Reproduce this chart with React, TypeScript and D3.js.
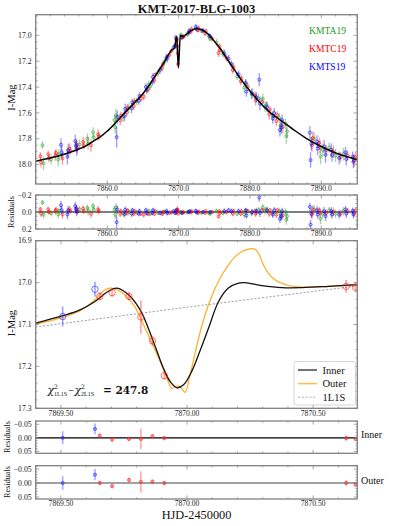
import * as d3 from "d3";

type Pt = [number, number, number];

const FONT = "'Liberation Serif', 'Times New Roman', serif";
const MATH = "'DejaVu Serif', serif";

const title = "KMT-2017-BLG-1003";
const obsNames = ["KMTA19", "KMTC19", "KMTS19"];
const obsColors = ["#1f9a1f", "#ff0000", "#0000ff"];

// full light curve: [HJD', I mag, error]
const kmtA: Pt[] = [
  [7850.9, 17.85, 0.03], [7851.05, 17.99, 0.05], [7852.1, 17.96, 0.04], [7853.1, 17.96, 0.05],
  [7853.2, 17.92, 0.04], [7856.1, 17.845, 0.04], [7857.2, 17.8, 0.04], [7857.3, 17.835, 0.05],
  [7858.0, 17.75, 0.04], [7858.1, 17.79, 0.03], [7861.0, 17.655, 0.04], [7861.1, 17.71, 0.05],
  [7861.2, 17.62, 0.05], [7862.2, 17.63, 0.04], [7863.0, 17.565, 0.04], [7864.1, 17.51, 0.03],
  [7865.8, 17.38, 0.03], [7866.0, 17.395, 0.03], [7867.1, 17.29, 0.03], [7868.0, 17.205, 0.03],
  [7870.3, 16.997, 0.02], [7870.5, 17.016, 0.02], [7871.2, 16.992, 0.02], [7873.2, 16.966, 0.02],
  [7874.2, 17.003, 0.02], [7874.4, 17.026, 0.02], [7875.3, 17.056, 0.03], [7876.2, 17.142, 0.03],
  [7878.2, 17.316, 0.03], [7879.2, 17.404, 0.04], [7879.4, 17.378, 0.03], [7880.2, 17.453, 0.04],
  [7881.2, 17.487, 0.04], [7881.8, 17.49, 0.04], [7882.1, 17.55, 0.04], [7882.3, 17.54, 0.03],
  [7883.2, 17.623, 0.04], [7884.1, 17.639, 0.04], [7884.3, 17.697, 0.05], [7885.0, 17.685, 0.04],
  [7885.1, 17.779, 0.06], [7885.2, 17.743, 0.05], [7889.0, 17.8, 0.05], [7889.9, 17.937, 0.06],
  [7890.2, 17.885, 0.05], [7891.1, 17.868, 0.04], [7892.0, 17.93, 0.05], [7893.1, 17.919, 0.05],
];

const kmtC: Pt[] = [
  [7850.6, 17.935, 0.03], [7850.7, 17.983, 0.04], [7851.7, 17.92, 0.03], [7851.8, 17.95, 0.03],
  [7852.7, 17.93, 0.04], [7852.8, 17.91, 0.03], [7853.7, 17.952, 0.05], [7854.7, 17.875, 0.04],
  [7854.8, 17.894, 0.03], [7855.7, 17.844, 0.04], [7855.8, 17.872, 0.04], [7856.6, 17.824, 0.04],
  [7856.7, 17.852, 0.03], [7857.7, 17.85, 0.05], [7858.7, 17.766, 0.04], [7858.8, 17.782, 0.03],
  [7861.8, 17.657, 0.04], [7861.9, 17.621, 0.03], [7862.7, 17.597, 0.03], [7862.8, 17.561, 0.03],
  [7863.7, 17.547, 0.03], [7863.8, 17.511, 0.03], [7864.7, 17.488, 0.03], [7865.1, 17.473, 0.03],
  [7865.7, 17.418, 0.03], [7866.6, 17.344, 0.03], [7866.7, 17.306, 0.02], [7867.7, 17.251, 0.03],
  [7867.8, 17.222, 0.02], [7868.7, 17.152, 0.02], [7869.0, 17.12, 0.02],
  [7869.654, 17.033, 0.01], [7869.703, 17.024, 0.01], [7869.77, 17.033, 0.01], [7869.817, 17.082, 0.04],
  [7869.863, 17.139, 0.012], [7869.91, 17.222, 0.01], [7870.631, 17.009, 0.015], [7870.668, 17.011, 0.012],
  [7871.7, 16.971, 0.02], [7871.8, 16.952, 0.02], [7872.7, 16.959, 0.02], [7872.8, 16.945, 0.02],
  [7873.7, 16.984, 0.02], [7873.8, 16.968, 0.02], [7874.7, 17.026, 0.02], [7875.6, 17.137, 0.03],
  [7875.7, 17.084, 0.02], [7875.8, 17.111, 0.02], [7876.7, 17.175, 0.03], [7877.6, 17.268, 0.03],
  [7877.7, 17.246, 0.03], [7878.7, 17.356, 0.03], [7878.8, 17.334, 0.03], [7879.7, 17.399, 0.03],
  [7880.7, 17.466, 0.03], [7880.8, 17.502, 0.04], [7881.7, 17.517, 0.03], [7882.7, 17.61, 0.04],
  [7882.8, 17.575, 0.03], [7883.7, 17.663, 0.04], [7883.8, 17.617, 0.03], [7884.6, 17.709, 0.05],
  [7888.7, 17.851, 0.05], [7888.8, 17.794, 0.05], [7889.7, 17.831, 0.04], [7889.8, 17.864, 0.05],
  [7890.7, 17.888, 0.04], [7891.7, 17.9, 0.05], [7892.7, 17.942, 0.04], [7893.7, 17.93, 0.04],
  [7894.6, 17.97, 0.05], [7894.8, 17.942, 0.04],
];

const kmtS: Pt[] = [
  [7853.5, 17.846, 0.05], [7853.6, 17.904, 0.05], [7854.4, 17.94, 0.06], [7854.5, 17.889, 0.05],
  [7855.5, 17.819, 0.05], [7855.6, 17.856, 0.04], [7855.7, 17.884, 0.05], [7861.3, 17.787, 0.08],
  [7861.4, 17.631, 0.05], [7862.4, 17.625, 0.04], [7862.5, 17.569, 0.04], [7863.4, 17.563, 0.04],
  [7863.5, 17.518, 0.03], [7864.4, 17.506, 0.03], [7864.5, 17.47, 0.03], [7865.4, 17.4, 0.03],
  [7865.5, 17.423, 0.03], [7866.3, 17.36, 0.03], [7866.4, 17.321, 0.03], [7867.4, 17.266, 0.03],
  [7868.3, 17.168, 0.03], [7868.4, 17.179, 0.03], [7869.3, 17.092, 0.02], [7869.507, 17.081, 0.024],
  [7869.635, 17.016, 0.018], [7870.4, 17.014, 0.02], [7871.4, 16.979, 0.02], [7871.5, 16.965, 0.02],
  [7872.4, 16.933, 0.02], [7872.5, 16.951, 0.02], [7873.4, 16.962, 0.02], [7874.4, 17.006, 0.02],
  [7876.4, 17.139, 0.03], [7877.0, 17.18, 0.03], [7877.4, 17.222, 0.03], [7878.4, 17.302, 0.03],
  [7879.4, 17.368, 0.03], [7879.5, 17.435, 0.04], [7880.3, 17.45, 0.04], [7880.9, 17.479, 0.04],
  [7881.3, 17.343, 0.05], [7881.4, 17.529, 0.05], [7882.4, 17.555, 0.04], [7883.2, 17.643, 0.04],
  [7883.4, 17.601, 0.04], [7884.2, 17.733, 0.05], [7884.4, 17.711, 0.05], [7884.5, 17.655, 0.04],
  [7888.4, 17.752, 0.05], [7888.5, 17.965, 0.06], [7888.6, 17.838, 0.05], [7889.4, 17.822, 0.05],
  [7889.5, 17.875, 0.05], [7890.4, 17.86, 0.05], [7890.6, 17.925, 0.06], [7891.4, 17.885, 0.05],
  [7891.5, 17.928, 0.05], [7892.5, 17.949, 0.05], [7893.4, 17.904, 0.04], [7893.5, 17.956, 0.05],
  [7894.4, 17.938, 0.04], [7894.5, 17.979, 0.05],
];

// best-fit model over the whole event
const modelFull: [number, number][] = [
  [7849.9, 17.975], [7851, 17.96], [7853, 17.935], [7855, 17.9], [7857, 17.855], [7858, 17.82],
  [7859, 17.785], [7860, 17.74], [7861, 17.685], [7862, 17.625], [7863, 17.565], [7864, 17.51],
  [7865, 17.45], [7866, 17.375], [7867, 17.29], [7868, 17.205], [7869, 17.115], [7869.4, 17.097],
  [7869.72, 17.013], [7869.96, 17.251], [7870.23, 17.0], [7870.6, 17.008], [7871, 16.995],
  [7871.8, 16.962], [7872.5, 16.946], [7873.3, 16.958], [7874.2, 16.993], [7875, 17.045],
  [7876, 17.115], [7877, 17.2], [7878, 17.28], [7879, 17.36], [7880, 17.43], [7881, 17.495],
  [7882, 17.555], [7883, 17.605], [7884, 17.645], [7886, 17.725], [7888, 17.8], [7890, 17.86],
  [7892, 17.91], [7894, 17.945], [7895.1, 17.962],
];

// zoom on the anomaly
const zoomObs = [2, 2, 1, 1, 1, 1, 1, 1, 1, 1];
const zoomT = [7869.507, 7869.635, 7869.654, 7869.703, 7869.77, 7869.817, 7869.863, 7869.91, 7870.631, 7870.668];
const zoomMag = [17.081, 17.016, 17.033, 17.024, 17.033, 17.082, 17.139, 17.222, 17.009, 17.011];
const zoomErr = [0.024, 0.018, 0.01, 0.01, 0.01, 0.04, 0.012, 0.01, 0.015, 0.012];
const innerRes = [0.0, -0.033, -0.008, 0.006, 0.004, 0.004, -0.006, 0.001, 0.001, 0.004];
const outerRes = [0.0, -0.03, 0.0, 0.011, -0.011, -0.004, -0.005, 0.0, 0.0, 0.005];
const resErr = [0.024, 0.02, 0.008, 0.008, 0.008, 0.038, 0.008, 0.008, 0.01, 0.008];

const innerCurve: [number, number][] = [
  [7869.4, 17.097], [7869.507, 17.079], [7869.576, 17.065], [7869.635, 17.045], [7869.682, 17.023],
  [7869.72, 17.013], [7869.76, 17.025], [7869.814, 17.065], [7869.866, 17.14], [7869.906, 17.204],
  [7869.933, 17.236], [7869.96, 17.251], [7869.986, 17.244], [7870.02, 17.21], [7870.05, 17.165],
  [7870.085, 17.109], [7870.125, 17.045], [7870.164, 17.013], [7870.204, 17.001], [7870.23, 17.0],
  [7870.297, 17.007], [7870.376, 17.012], [7870.456, 17.012], [7870.561, 17.009], [7870.676, 17.005],
];
const outerCurve: [number, number][] = [
  [7869.4, 17.099], [7869.507, 17.083], [7869.576, 17.067], [7869.635, 17.041], [7869.668, 17.02],
  [7869.695, 17.013], [7869.735, 17.021], [7869.788, 17.053], [7869.84, 17.117], [7869.893, 17.188],
  [7869.92, 17.228], [7869.94, 17.253], [7869.952, 17.248], [7869.972, 17.248], [7869.992, 17.262],
  [7870.01, 17.225], [7870.035, 17.16], [7870.06, 17.1], [7870.085, 17.053], [7870.11, 17.015],
  [7870.138, 16.982], [7870.165, 16.957], [7870.191, 16.938], [7870.22, 16.925], [7870.244, 16.92],
  [7870.268, 16.92], [7870.284, 16.93], [7870.297, 16.95], [7870.317, 16.973], [7870.35, 16.994],
  [7870.402, 17.007], [7870.469, 17.011], [7870.561, 17.009], [7870.676, 17.005],
];
const psplCurve: [number, number][] = [[7869.4, 17.106], [7870.05, 17.055], [7870.676, 17.008]];
const legendNames = ["Inner", "Outer", "1L1S"];
const chiDiff = 247.8;

const topXTicks = [7860, 7870, 7880, 7890];
const topYTicks = [17.0, 17.2, 17.4, 17.6, 17.8, 18.0];
const resYTicks = [-0.2, 0.0, 0.2];
const zoomXTicks = [7869.5, 7870.0, 7870.5];
const zoomYTicks = [16.9, 17.0, 17.1, 17.2, 17.3];
const zResYTicks = [-0.05, 0.0, 0.05];

// layout
const L = 35.7, R = 357.3;
const xTop = d3.scaleLinear().domain([7849.95, 7895.05]).range([L, R]);
const yTop = d3.scaleLinear().domain([16.84, 18.15]).range([14.7, 184]);
const yRes = d3.scaleLinear().domain([-0.2, 0.2]).range([195, 229]);
const xZm = d3.scaleLinear().domain([7869.4, 7870.675]).range([L, R]);
const yZm = d3.scaleLinear().domain([16.9, 17.3]).range([240.7, 408.3]);
const yInn = d3.scaleLinear().domain([-0.062, 0.057]).range([421, 453.3]);
const yOut = d3.scaleLinear().domain([-0.062, 0.057]).range([465.7, 499]);

const modelScale = d3.scaleLinear().domain(modelFull.map(d => d[0])).range(modelFull.map(d => d[1]));

function minors(scale: any, step: number, majors: number[]) {
  const [a, b] = scale.domain();
  const lo = Math.min(a, b), hi = Math.max(a, b);
  return d3.range(Math.ceil(lo / step) * step, hi, step)
    .filter(v => !majors.some(m => Math.abs(m - v) < step / 10));
}

function Axes({ xs, ys, xMajor, xStep, yMajor, yStep, xFmt, yFmt }: any) {
  const [x0, x1] = xs.range();
  const [y0, y1] = ys.range();
  const c = "#808080";
  const xm = minors(xs, xStep, xMajor);
  const ym = minors(ys, yStep, yMajor);
  return (
    <g stroke={c} strokeWidth={0.7}>
      {xm.map(v => (
        <g key={"xm" + v}>
          <line x1={xs(v)} x2={xs(v)} y1={y1} y2={y1 - 1.8} />
          <line x1={xs(v)} x2={xs(v)} y1={y0} y2={y0 + 1.8} />
        </g>
      ))}
      {xMajor.map((v: number) => (
        <g key={"xM" + v}>
          <line x1={xs(v)} x2={xs(v)} y1={y1} y2={y1 - 3.6} />
          <line x1={xs(v)} x2={xs(v)} y1={y0} y2={y0 + 3.6} />
          {xFmt && (
            <text x={xs(v)} y={y1 + 7.4} stroke="none" fill="#222" fontSize={7.6} textAnchor="middle" fontFamily={FONT}>
              {xFmt(v)}
            </text>
          )}
        </g>
      ))}
      {ym.map(v => (
        <g key={"ym" + v}>
          <line x1={x0} x2={x0 + 1.8} y1={ys(v)} y2={ys(v)} />
          <line x1={x1} x2={x1 - 1.8} y1={ys(v)} y2={ys(v)} />
        </g>
      ))}
      {yMajor.map((v: number) => (
        <g key={"yM" + v}>
          <line x1={x0} x2={x0 + 3.6} y1={ys(v)} y2={ys(v)} />
          <line x1={x1} x2={x1 - 3.6} y1={ys(v)} y2={ys(v)} />
          <text x={x0 - 4} y={ys(v) + 2.7} stroke="none" fill="#222" fontSize={7.8} textAnchor="end" fontFamily={FONT}>
            {yFmt(v)}
          </text>
        </g>
      ))}
      <rect x={x0} y={y0} width={x1 - x0} height={y1 - y0} fill="none" strokeWidth={1.3} />
    </g>
  );
}

function Points({ data, color, xs, ys, val, r = 1.5 }: any) {
  return (
    <g>
      {data.map((d: Pt, i: number) => {
        const v = val(d);
        return (
          <g key={i}>
            <line x1={xs(d[0])} x2={xs(d[0])} y1={ys(v - d[2])} y2={ys(v + d[2])} stroke={color} strokeOpacity={0.4} strokeWidth={1.3} />
            <circle cx={xs(d[0])} cy={ys(v)} r={r} fill="none" stroke={color} strokeWidth={0.7} strokeOpacity={0.85} />
          </g>
        );
      })}
    </g>
  );
}

function YLabel({ x, y, text, size }: any) {
  return (
    <text transform={`translate(${x},${y}) rotate(-90)`} textAnchor="middle" dominantBaseline="central"
      fontSize={size} fontFamily={FONT} fill="#111">{text}</text>
  );
}

function ChiLabel({ x, y }: any) {
  // chi^2_1L1S - chi^2_2L1S = value, drawn like matplotlib mathtext
  const part = (x0: number, sub: string) => (
    <g>
      <text x={x0} y={y} fontSize={11} fontStyle="italic" fontFamily={MATH}>χ</text>
      <text x={x0 + 6.6} y={y - 4.6} fontSize={6.2} fontFamily={MATH}>2</text>
      <text x={x0 + 6.6} y={y + 2.2} fontSize={6} fontFamily={FONT}>{sub}</text>
    </g>
  );
  return (
    <g fill="#111">
      {part(x, "1L1S")}
      <text x={x + 20.6} y={y - 0.6} fontSize={7.4} fontFamily={MATH}>−</text>
      {part(x + 27, "2L1S")}
      <text x={x + 55.5} y={y} fontSize={10.5} fontWeight="bold" fontFamily={MATH}>{"= " + chiDiff}</text>
    </g>
  );
}

export default function App() {
  const series = [kmtA, kmtC, kmtS];
  const f1 = d3.format(".1f");
  const f2 = d3.format(".2f");
  const topLine = d3.line<[number, number]>().x(d => xTop(d[0])).y(d => yTop(d[1])).curve(d3.curveMonotoneX);
  const zLine = d3.line<[number, number]>().x(d => xZm(d[0])).y(d => yZm(d[1])).curve(d3.curveCatmullRom.alpha(0.5));
  const zoomColors = ["#ff2a2a", "#ff2a2a", "#3030ff"];
  const zoomPts = zoomT.map((t, i) => ({ t, m: zoomMag[i], e: zoomErr[i], c: zoomColors[zoomObs[i]] }));

  const resPanel = (ys: any, res: number[], zeroColor: string, key: string) => (
    <g key={key}>
      <line x1={L} x2={R} y1={ys(0)} y2={ys(0)} stroke={zeroColor} strokeWidth={1.1} />
      {zoomPts.map((p, i) => (
        <g key={i}>
          <line x1={xZm(p.t)} x2={xZm(p.t)} y1={ys(res[i] - resErr[i])} y2={ys(res[i] + resErr[i])} stroke={p.c} strokeOpacity={0.4} strokeWidth={1.6} />
          <circle cx={xZm(p.t)} cy={ys(res[i])} r={1.6} fill={p.c} fillOpacity={0.3} stroke={p.c} strokeWidth={0.8} strokeOpacity={0.8} />
        </g>
      ))}
    </g>
  );

  return (
    <svg width={395} height={526} style={{ position: "absolute", left: 0, top: 0, background: "#fff" }} fontFamily={FONT}>
      <defs>
        <clipPath id="cTop"><rect x={L} y={14.7} width={R - L} height={169.3} /></clipPath>
        <clipPath id="cRes"><rect x={L} y={195} width={R - L} height={34} /></clipPath>
        <clipPath id="cZm"><rect x={L} y={240.7} width={R - L} height={167.6} /></clipPath>
        <clipPath id="cBot"><rect x={L} y={421} width={R - L} height={78} /></clipPath>
      </defs>

      <text x={196.5} y={13.3} textAnchor="middle" fontSize={12.5} fontWeight="bold" fill="#111">{title}</text>

      {/* full light curve */}
      <g clipPath="url(#cTop)">
        {series.map((s, k) => (
          <Points key={k} data={s} color={obsColors[k]} xs={xTop} ys={yTop} val={(d: Pt) => d[1]} />
        ))}
        <path d={topLine(modelFull) || ""} fill="none" stroke="#000" strokeWidth={1.5} />
      </g>
      <Axes xs={xTop} ys={yTop} xMajor={topXTicks} xStep={2} yMajor={topYTicks} yStep={0.05} xFmt={f1} yFmt={f1} />
      {obsNames.map((n, k) => (
        <text key={n} x={309} y={33.5 + k * 18.4} fontSize={9.6} fill={obsColors[k]}>{n}</text>
      ))}
      <YLabel x={11.7} y={97.5} text="I-Mag" size={10.5} />

      {/* residuals of the full light curve */}
      <g clipPath="url(#cRes)">
        <line x1={L} x2={R} y1={yRes(0)} y2={yRes(0)} stroke="#000" strokeWidth={1.1} />
        {series.map((s, k) => (
          <Points key={k} data={s} color={obsColors[k]} xs={xTop} ys={yRes} val={(d: Pt) => d[1] - modelScale(d[0])} />
        ))}
      </g>
      <Axes xs={xTop} ys={yRes} xMajor={topXTicks} xStep={2} yMajor={resYTicks} yStep={0.05} xFmt={f1} yFmt={f1} />
      <YLabel x={11.5} y={212} text="Residuals" size={8.2} />

      {/* zoom on the anomaly */}
      <g clipPath="url(#cZm)">
        <path d={zLine(psplCurve) || ""} fill="none" stroke="#999" strokeWidth={0.9} strokeDasharray="2.2,1.6" />
        <path d={zLine(outerCurve) || ""} fill="none" stroke="#ffad1f" strokeWidth={1.2} />
        <path d={zLine(innerCurve) || ""} fill="none" stroke="#111" strokeWidth={1.3} />
        {zoomPts.map((p, i) => (
          <g key={i}>
            <line x1={xZm(p.t)} x2={xZm(p.t)} y1={yZm(p.m - p.e)} y2={yZm(p.m + p.e)} stroke={p.c} strokeOpacity={0.45} strokeWidth={1.6} />
            <circle cx={xZm(p.t)} cy={yZm(p.m)} r={3.2} fill="none" stroke={p.c} strokeWidth={0.9} strokeOpacity={0.75} />
          </g>
        ))}
      </g>
      <Axes xs={xZm} ys={yZm} xMajor={zoomXTicks} xStep={0.1} yMajor={zoomYTicks} yStep={0.02} xFmt={f2} yFmt={f1} />
      <YLabel x={11.7} y={323} text="I-Mag" size={10.5} />

      <g>
        <rect x={294} y={361.5} width={61.5} height={43.5} rx={2} fill="#fff" fillOpacity={0.9} stroke="#ccc" strokeWidth={0.8} />
        {legendNames.map((n, k) => {
          const yy = 370 + k * 13.6;
          const st = ["#444", "#ffbb44", "#aaa"][k];
          return (
            <g key={n}>
              <line x1={298} x2={317} y1={yy} y2={yy} stroke={st} strokeWidth={k === 2 ? 0.9 : 1.5}
                strokeDasharray={k === 2 ? "2.2,1.6" : undefined} />
              <text x={322.5} y={yy + 3.6} fontSize={10.5} fill="#111">{n}</text>
            </g>
          );
        })}
      </g>

      <ChiLabel x={47.5} y={393.5} />

      {/* residuals of the zoom */}
      <g clipPath="url(#cBot)">
        {resPanel(yInn, innerRes, "#000", "inn")}
        {resPanel(yOut, outerRes, "#444", "out")}
      </g>
      <Axes xs={xZm} ys={yInn} xMajor={zoomXTicks} xStep={0.1} yMajor={zResYTicks} yStep={0.01} yFmt={f2} />
      <Axes xs={xZm} ys={yOut} xMajor={zoomXTicks} xStep={0.1} yMajor={zResYTicks} yStep={0.01} xFmt={f2} yFmt={f2} />
      <YLabel x={7} y={437} text="Residuals" size={8.2} />
      <YLabel x={7} y={482} text="Residuals" size={8.2} />
      <text x={361} y={438} fontSize={10} fill="#111">Inner</text>
      <text x={361} y={483.5} fontSize={10} fill="#111">Outer</text>

      <text x={196.5} y={518.5} textAnchor="middle" fontSize={12.3} fill="#111">HJD-2450000</text>
    </svg>
  );
}
